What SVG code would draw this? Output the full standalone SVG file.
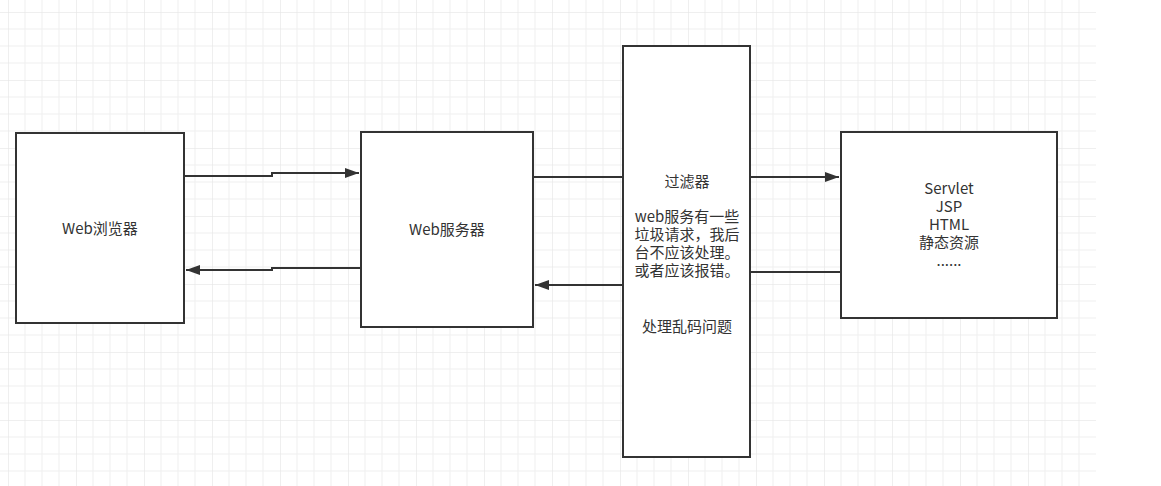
<svg xmlns="http://www.w3.org/2000/svg" width="1161" height="486" viewBox="0 0 1161 486">
<defs>
<pattern id="g" x="8" y="12" width="68" height="68" patternUnits="userSpaceOnUse">
<path d="M0 0H68M0 17H68M0 34H68M0 51H68M0 0V68M17 0V68M34 0V68M51 0V68" stroke="#efefef" stroke-width="1" fill="none"/>
<path d="M0 0H68M0 0V68" stroke="#e6e6e6" stroke-width="1" fill="none"/>
</pattern>
<marker id="ah" viewBox="0 0 10 10" refX="10" refY="5" markerWidth="7" markerHeight="7" orient="auto-start-reverse" markerUnits="strokeWidth">
<path d="M0 1.5L10 5L0 8.5Z" fill="#333"/>
</marker>
</defs>
<style>
.box{fill:#fff;stroke:#333;stroke-width:2}
.ln{fill:none;stroke:#333;stroke-width:2}
text{font-family:"Noto Sans CJK SC","Microsoft YaHei",sans-serif;font-size:15px;fill:#333;text-anchor:middle}
</style>
<rect width="1161" height="486" fill="#fff"/>
<rect x="0" y="0" width="1096" height="486" fill="url(#g)"/>
<g id="connectors">
<path class="ln" d="M184 176H272V173H359" marker-end="url(#ah)"/>
<path class="ln" d="M361 268H272V270H186" marker-end="url(#ah)"/>
<path class="ln" d="M533 177H623"/>
<path class="ln" d="M623 285H535" marker-end="url(#ah)"/>
<path class="ln" d="M750 177H839" marker-end="url(#ah)"/>
<path class="ln" d="M841 272H750"/>
</g>
<g id="browser">
<rect class="box" x="16" y="133" width="168" height="190"/>
<text x="100" y="234">Web浏览器</text>
</g>
<g id="webserver">
<rect class="box" x="361" y="132" width="172" height="195"/>
<text x="447" y="235">Web服务器</text>
</g>
<g id="filter">
<rect class="box" x="623" y="46" width="127" height="411"/>
<text x="687" y="187">过滤器</text>
<text x="687" y="222"><tspan x="687">web服务有一些</tspan><tspan x="687" dy="18">垃圾请求，我后</tspan><tspan x="687" dy="18">台不应该处理。</tspan><tspan x="687" dy="18">或者应该报错。</tspan></text>
<text x="687" y="332">处理乱码问题</text>
</g>
<g id="servlet">
<rect class="box" x="841" y="132" width="216" height="186"/>
<text x="949" y="194"><tspan x="949">Servlet</tspan><tspan x="949" dy="18">JSP</tspan><tspan x="949" dy="18">HTML</tspan><tspan x="949" dy="18">静态资源</tspan><tspan x="949" dy="18">......</tspan></text>
</g>
</svg>
